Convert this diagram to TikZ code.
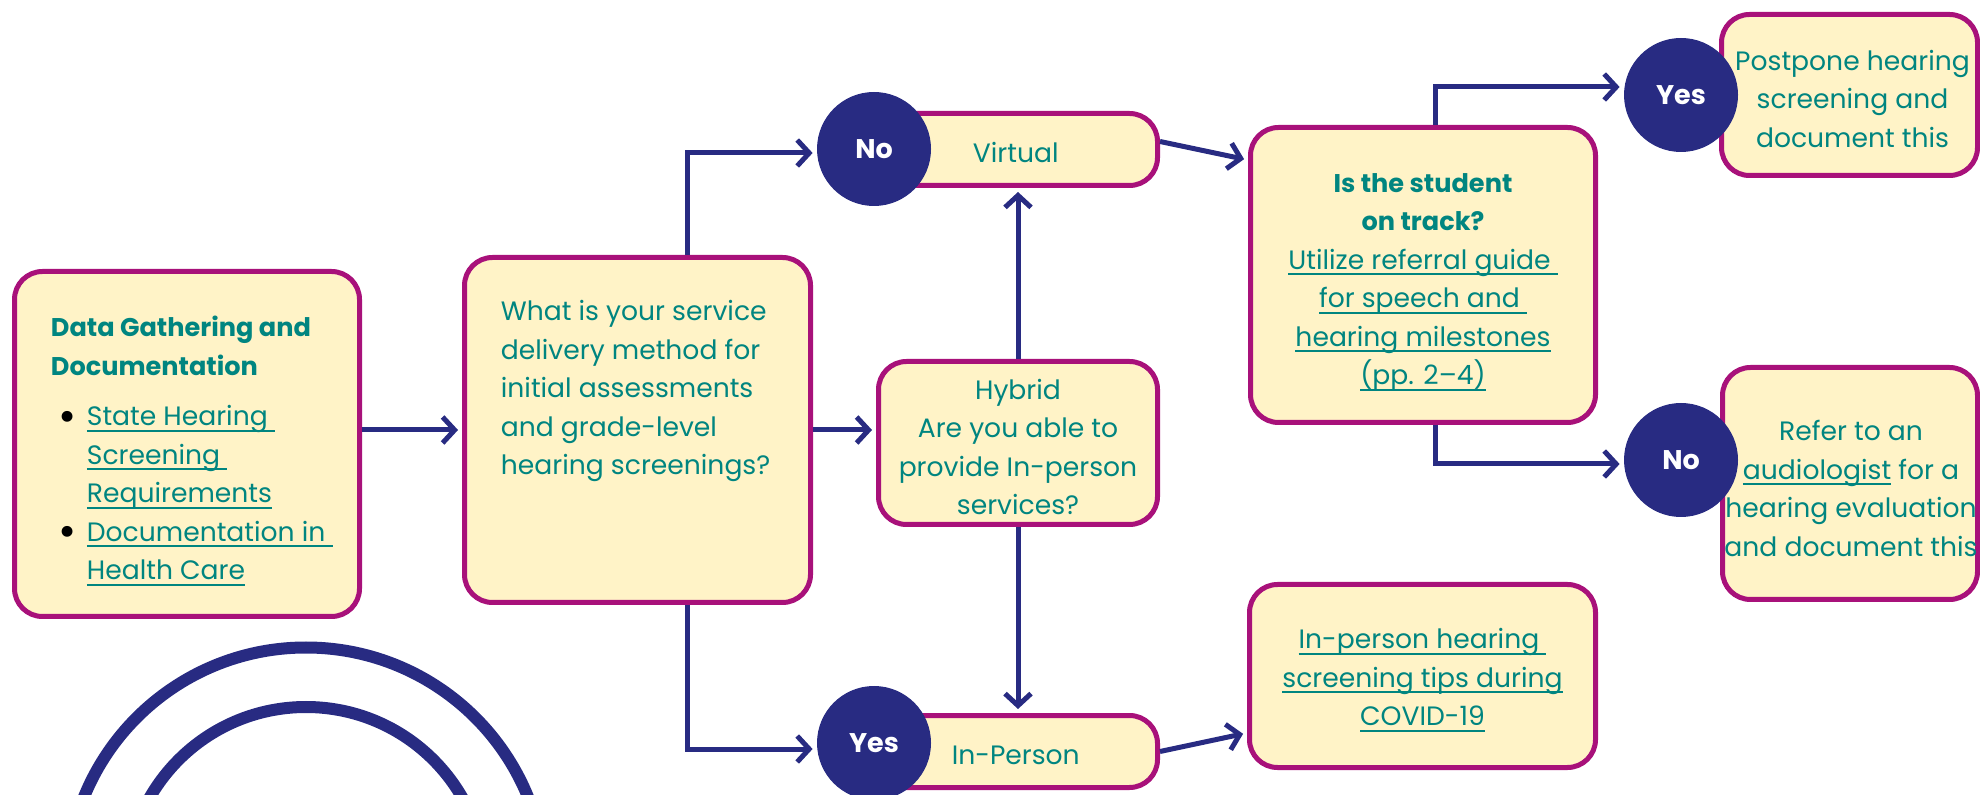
\documentclass[tikz,border=0pt]{standalone}
\usepackage{fontspec}
\setmainfont{Poppins}
\usetikzlibrary{arrows.meta,positioning,calc}

\definecolor{cream}{RGB}{255,243,199}
\definecolor{plum}{RGB}{168,17,122}
\definecolor{navy}{RGB}{40,43,130}
\definecolor{linkteal}{RGB}{0,133,128}

\newsavebox\ulbox
\newcommand\ulink[1]{\sbox\ulbox{#1}\rlap{\rule[-3pt]{\wd\ulbox}{1pt}}\usebox\ulbox}
\newcommand\hd[1]{{\fontsize{12.8}{19.25}\selectfont\bfseries #1}}
\newcommand\bul{\makebox[18pt][l]{\hspace*{4pt}\raisebox{-2.6pt}{\textcolor{black}{\fontsize{22}{19.25}\selectfont •}}}}

\begin{document}
\begin{tikzpicture}[x=0.5pt,y=-0.5pt,
  box/.style={draw=plum,fill=cream,line width=2.5pt,rounded corners=14pt,inner sep=0pt},
  txt/.style={inner sep=0pt,text=linkteal,font=\fontsize{13.3}{19.25}\selectfont,align=center},
  note/.style={txt,anchor=north west,align=left},
  badge/.style={circle,fill=navy,minimum size=57pt,inner sep=0pt,text=white,
    font=\bfseries\fontsize{13.5}{16}\selectfont},
  conn/.style={navy,line width=2.5pt,-{Straight Barb[length=6pt,width=13pt]},shorten >=2pt},
  ring/.style={navy,line width=6pt}]
\clip (0,0) rectangle (1980,795);

\node[box,minimum width=172.5pt,minimum height=172.5pt] (data) at (187,444) {};
\node[box,minimum width=173pt,minimum height=172.5pt] (method) at (637.5,430) {};
\node[box,minimum width=141.75pt,minimum height=36pt] (virtual) at (1015.75,149.5) {};
\node[box,minimum width=139.5pt,minimum height=81.5pt] (hybrid) at (1018,443) {};
\node[box,minimum width=141.75pt,minimum height=36pt] (inperson) at (1015.75,751.5) {};
\node[box,minimum width=172.5pt,minimum height=147.5pt] (ontrack) at (1423,275) {};
\node[box,minimum width=173pt,minimum height=91.5pt] (covid) at (1422.5,676) {};
\node[box,minimum width=128pt,minimum height=80.5pt] (postpone) at (1849.5,95) {};
\node[box,minimum width=127.5pt,minimum height=116pt] (refer) at (1850,483.5) {};

\node[note] (datatext) at ($(data.north west)+(38.5,47)$)
  {\hd{Data Gathering and}\\ \hd{Documentation}\\[6pt]
   \bul\ulink{State Hearing\ }\\ \hspace*{18pt}\ulink{Screening\ }\\
   \hspace*{18pt}\ulink{Requirements}\\ \bul\ulink{Documentation in\ }\\
   \hspace*{18pt}\ulink{Health Care}};
\node[note] (methodtext) at ($(method.north west)+(38.5,45)$)
  {What is your service\\ delivery method for\\ initial assessments\\
   and grade-level\\ hearing screenings?};
\node[txt] (virtualtext) at ([yshift=-1.5pt]virtual.center) {Virtual};
\node[txt] (hybridtext) at ([yshift=-2pt]hybrid.center)
  {Hybrid\\ Are you able to\\ provide In-person\\ services?};
\node[txt] (inpersontext) at ([yshift=-2pt]inperson.center) {In-Person};
\node[txt] (ontracktext) at ([yshift=-3.75pt]ontrack.center)
  {\hd{Is the student}\\ \hd{on track?}\\ \ulink{Utilize referral guide\ }\\
   \ulink{for speech and\ }\\ \ulink{hearing milestones}\\ \ulink{(pp. 2–4)}};
\node[txt] (covidtext) at ([yshift=-2pt]covid.center)
  {\ulink{In-person hearing\ }\\ \ulink{screening tips during}\\ \ulink{COVID-19}};
\node[txt] (postponetext) at ([xshift=1.5pt,yshift=-2pt]postpone.center)
  {Postpone hearing\\ screening and\\ document this};
\node[txt] (refertext) at ([xshift=0.5pt,yshift=-2.5pt]refer.center)
  {Refer to an\\ \ulink{audiologist} for a\\ hearing evaluation\\ and document this};

\node[badge] (no1) at (874,149) {No};
\node[badge] (yes2) at (874,743) {Yes};
\node[badge] (yes1) at (1681,95) {Yes};
\node[badge] (no2) at (1681,460) {No};

\draw[conn] (data.east |- method.west) -- (method.west);
\draw[conn] (method.east) -- (method.east -| hybrid.west);
\draw[conn] ([xshift=24.75pt]method.north) |- ([yshift=-2pt]no1.west);
\draw[conn] ([xshift=24.75pt]method.south) |- ([yshift=-3pt]yes2.west);
\draw[conn] (hybrid.north) -- (hybrid.north |- virtual.south);
\draw[conn] (hybrid.south) -- (hybrid.south |- inperson.north);
\draw[conn] ([yshift=4pt]virtual.east) -- ($(ontrack.north west)+(0,35)$);
\draw[conn] (inperson.east) -- ($(covid.west)+(0,57)$);
\draw[conn] ([xshift=6pt]ontrack.north) |- ([yshift=4pt]yes1.west);
\draw[conn] ([xshift=6pt]ontrack.south) |- ([yshift=-2pt]no2.west);

\draw[ring] (306,887) circle (239.5);
\draw[ring] (306,887) circle (180);
\end{tikzpicture}
\end{document}
